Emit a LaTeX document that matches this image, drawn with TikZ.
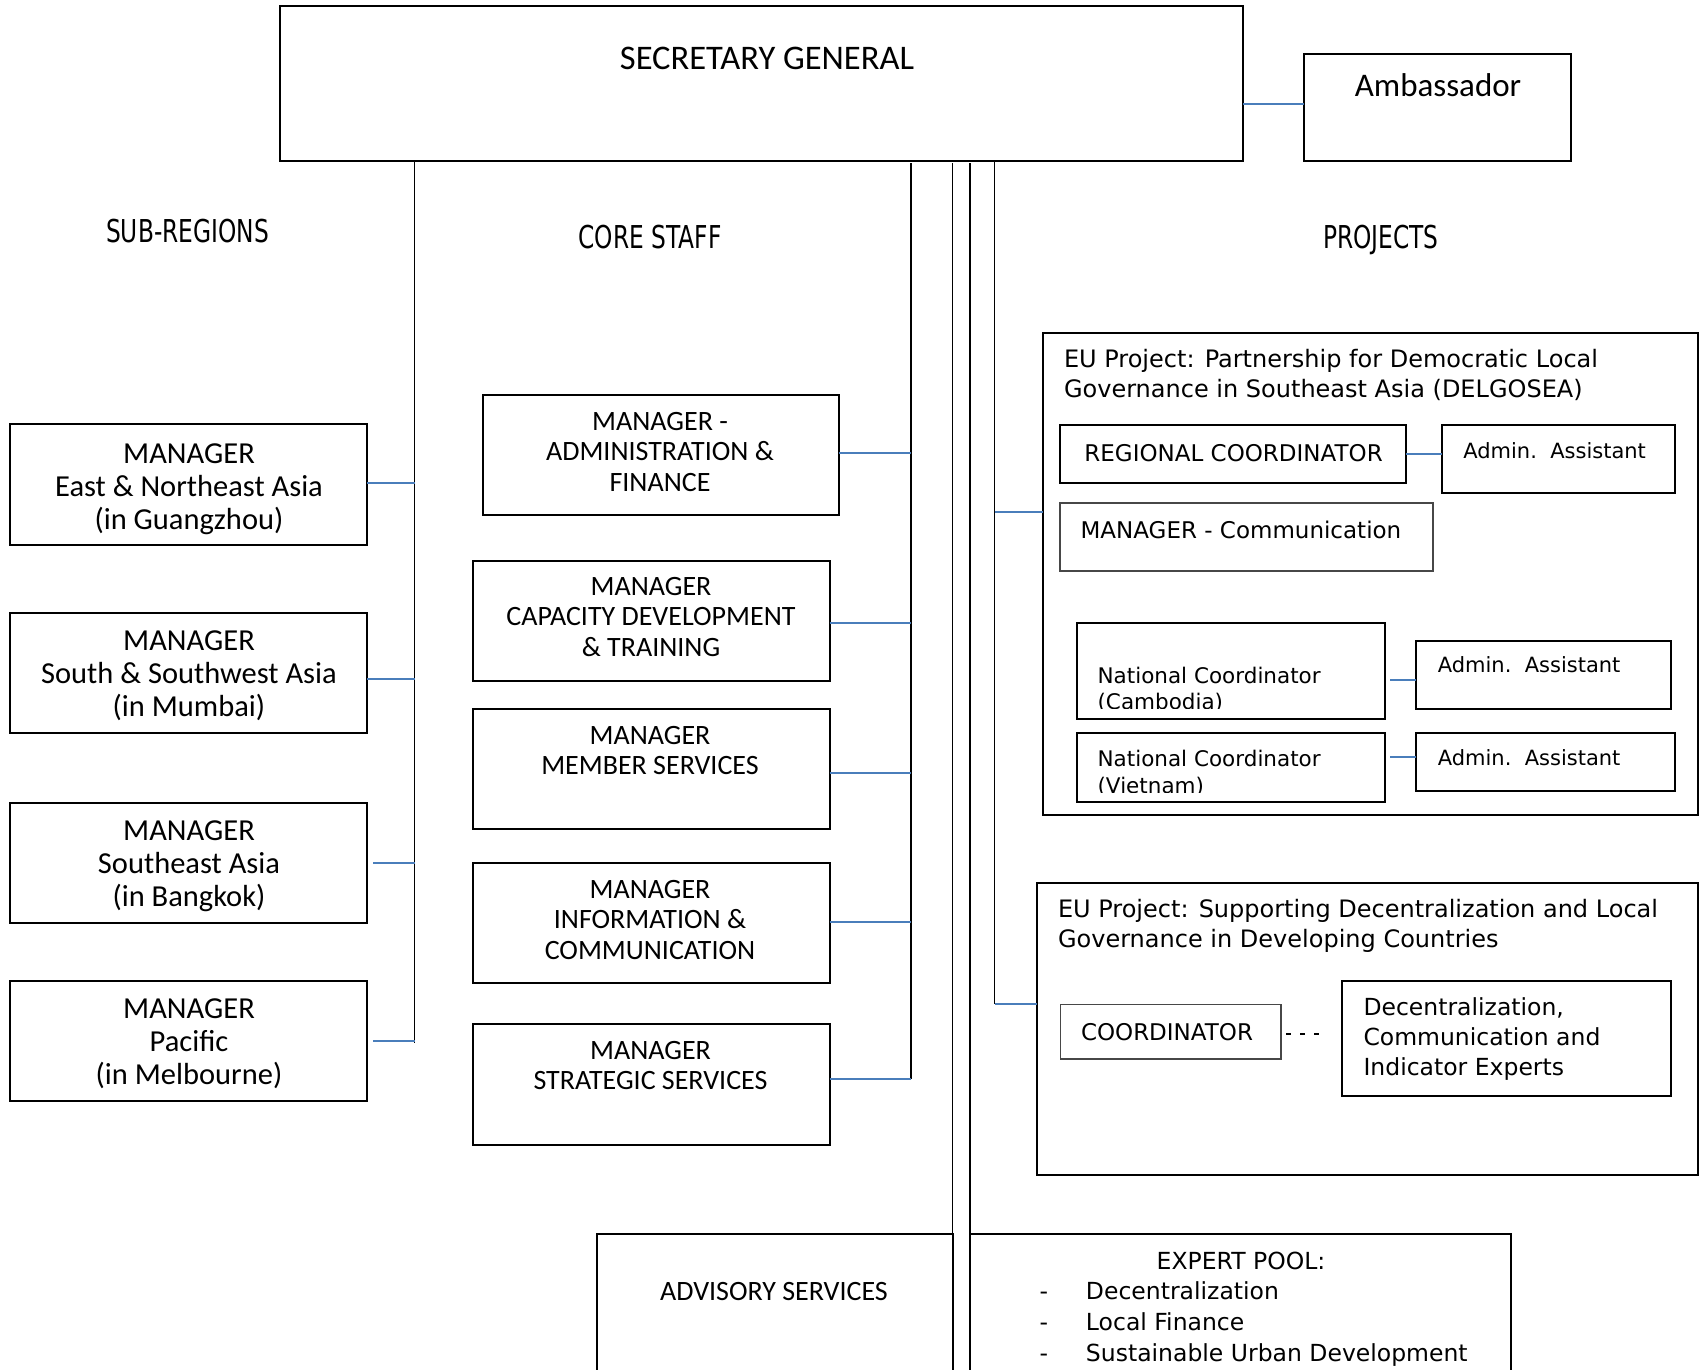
\documentclass[tikz,border=0pt]{standalone}
\usepackage{fontspec}
\setmainfont{Carlito}
\newfontfamily\tahf{DejaVu Sans}
\newfontfamily\condf{DejaVu Sans}[FakeStretch=0.74]
\usetikzlibrary{calc}
\definecolor{connblue}{RGB}{74,126,187}
\tikzset{
  box/.style={draw=black, line width=2pt, inner sep=0pt, outer sep=0pt},
  lbox/.style={draw=black!72, line width=1.6pt, inner sep=0pt, outer sep=0pt},
  spine/.style={draw=black, line width=1.5pt},
  conn/.style={draw=connblue, line width=2pt},
  dashconn/.style={draw=black, line width=1.6pt, dash pattern=on 0pt off 5pt on 5pt off 9pt on 5pt off 9pt on 5pt off 200pt},
  tc/.style={inner sep=0pt, outer sep=0pt, anchor=base, align=center},
  tl/.style={inner sep=0pt, outer sep=0pt, anchor=base west, align=left},
  fsg/.style={font=\fontsize{34.5}{40}\selectfont},
  famb/.style={font=\fontsize{33}{38}\selectfont},
  fhead/.style={font=\condf\fontsize{31.5}{36}\selectfont},
  fsr/.style={font=\fontsize{30.5}{33}\selectfont},
  fcs/.style={font=\fontsize{28}{30.8}\selectfont},
  feu/.style={font=\tahf\fontsize{24}{30.2}\selectfont},
  frc/.style={font=\tahf\fontsize{23}{28}\selectfont},
  faa/.style={font=\tahf\fontsize{21}{26}\selectfont},
  fnc/.style={font=\tahf\fontsize{21.5}{26.7}\selectfont},
  fex/.style={font=\tahf\fontsize{23.5}{30}\selectfont},
  fpool/.style={font=\tahf\fontsize{23.5}{30.8}\selectfont},
}
\begin{document}
\begin{tikzpicture}[x=1pt,y=-1pt]
\useasboundingbox (0,0) rectangle (1702,1370);
\fill[white] (0,0) rectangle (1702,1370);

% ---------- top ----------
\node[box, minimum width=963pt, minimum height=154.5pt] (sg) at (761.5,83.75) {};
\node[tc, fsg] (sgt) at (767,70) {SECRETARY GENERAL};
\node[box, minimum width=267pt, minimum height=106.7pt] (amb) at (1437.5,107.65) {};
\node[tc, famb] (ambt) at (1438,97) {Ambassador};
\coordinate (ka) at ([yshift=3.65pt]amb.west);
\draw[conn] (ka) -- (ka -| sg.east);

% ---------- headings ----------
\node[tc, fhead] (hsr) at (187.5,242) {SUB-REGIONS};
\node[tc, fhead] (hcs) at (650,248) {CORE STAFF};
\node[tc, fhead] (hpj) at (1381,248) {PROJECTS};

% ---------- spine x positions ----------
\coordinate (xsr) at (414.5,0);
\coordinate (xcs) at (911,0);
\coordinate (xpj) at (994.6,0);

% ---------- sub-regions (text anchored at last baseline) ----------
\node[box, minimum width=357pt, minimum height=120.7pt] (sr1) at (188.85,484.65) {};
\node[box, minimum width=357pt, minimum height=120pt] (sr2) at (188.85,672.7) {};
\node[box, minimum width=357pt, minimum height=120pt] (sr3) at (188.85,862.7) {};
\node[box, minimum width=357pt, minimum height=120pt] (sr4) at (188.85,1040.7) {};
\node[tc, fsr] (sr1t) at (189,529) {MANAGER\\East \& Northeast Asia\\(in Guangzhou)};
\node[tc, fsr] (sr2t) at (189,716) {MANAGER\\South \& Southwest Asia\\(in Mumbai)};
\node[tc, fsr] (sr3t) at (189,906) {MANAGER\\Southeast Asia\\(in Bangkok)};
\node[tc, fsr] (sr4t) at (189,1084) {MANAGER\\Pacific\\(in Melbourne)};

\coordinate (k1) at ([yshift=2pt]sr1.east);
\coordinate (k2) at ([yshift=-6.3pt]sr2.east);
\coordinate (k3) at ([xshift=6pt]sr3.east);
\coordinate (k4) at ([xshift=6pt]sr4.east);
\draw[spine] (sg.south -| xsr) -- ([yshift=-2pt]k4 -| xsr);
\draw[conn] (k1) -- (k1 -| xsr);
\draw[conn] (k2) -- (k2 -| xsr);
\draw[conn] (k3) -- (k3 -| xsr);
\draw[conn] (k4) -- (k4 -| xsr);

% ---------- core staff ----------
\node[box, minimum width=355.7pt, minimum height=120pt] (cs1) at (660.85,455) {};
\node[box, minimum width=356.5pt, minimum height=120pt] (cs2) at (651.25,621) {};
\node[box, minimum width=356.5pt, minimum height=119.7pt] (cs3) at (651.25,769.15) {};
\node[box, minimum width=356.5pt, minimum height=120pt] (cs4) at (651.25,923.3) {};
\node[box, minimum width=356.5pt, minimum height=121pt] (cs5) at (651.25,1084.5) {};
\node[tc, fcs] (cs1t) at (660,491.6) {MANAGER -\\ADMINISTRATION \&\\FINANCE};
\node[tc, fcs] (cs2t) at (651,656.6) {MANAGER\\CAPACITY DEVELOPMENT\\\& TRAINING};
\node[tc, fcs] (cs3t) at (650,774.8) {MANAGER\\MEMBER SERVICES};
\node[tc, fcs] (cs4t) at (650,959.6) {MANAGER\\INFORMATION \&\\COMMUNICATION};
\node[tc, fcs] (cs5t) at (650.5,1089.8) {MANAGER\\STRATEGIC SERVICES};

\coordinate (c1) at ([yshift=2.3pt]cs1.east);
\coordinate (c2) at ([yshift=-1.7pt]cs2.east);
\coordinate (c3) at ([yshift=-3.5pt]cs3.east);
\coordinate (c4) at ([yshift=1pt]cs4.east);
\coordinate (c5) at ([yshift=5.8pt]cs5.east);
\draw[spine] ([yshift=-2pt]sg.south -| xcs) -- (c5 -| xcs);
\draw[conn] (c1) -- (c1 -| xcs);
\draw[conn] (c2) -- (c2 -| xcs);
\draw[conn] (c3) -- (c3 -| xcs);
\draw[conn] (c4) -- (c4 -| xcs);
\draw[conn] (c5) -- (c5 -| xcs);

% ---------- bottom boxes & double line ----------
\node[box, minimum width=355.5pt, minimum height=186pt] (adv) at (774.75,1327) {};
\node[box, minimum width=541pt, minimum height=186pt] (pool) at (1240.5,1327) {};
\draw[spine] ([yshift=-2pt]sg.south -| adv.east) -- (adv.north east);
\draw[spine] ([yshift=-2pt]sg.south -| pool.west) -- (pool.north west);
\node[tc, font=\fontsize{28}{32}\selectfont] (advt) at (774,1300) {ADVISORY SERVICES};
\node[tc, fpool] (poolt) at (1241,1269) {EXPERT POOL:};
\node[tl, fpool] (pooll) at (1039.5,1361.1) {\makebox[46.5pt][l]{-}Decentralization\\\makebox[46.5pt][l]{-}Local Finance\\\makebox[46.5pt][l]{-}Sustainable Urban Development};

% ---------- projects ----------
\node[box, minimum width=655.5pt, minimum height=482.3pt] (p1) at (1370.25,573.85) {};
\node[tl, feu] (p1t) at (1064,397.2) {EU Project: Partnership for Democratic Local\\Governance in Southeast Asia (DELGOSEA)};
\node[box, minimum width=346pt, minimum height=57.7pt] (rc) at (1233.4,453.85) {};
\node[tc, frc] (rct) at (1233.6,461.7) {REGIONAL COORDINATOR};
\node[box, minimum width=233pt, minimum height=67.7pt] (aa1) at (1558.5,458.85) {};
\node[tl, faa] (aa1t) at (1463.3,458) {Admin.~~Assistant};
\draw[conn] (rc.east) -- (rc.east -| aa1.west);
\node[lbox, minimum width=373pt, minimum height=68pt] (mc) at (1246.5,536.7) {};
\node[tl, frc] (mct) at (1080.6,538.3) {MANAGER - Communication};

\node[box, minimum width=308pt, minimum height=96.3pt] (nc1) at (1231,670.85) {};
\begin{scope}
  \clip (nc1.north west) rectangle ([yshift=11pt]nc1.south east);
  \node[tl, fnc] (nc1t) at (1097.6,709.7) {National Coordinator\\(Cambodia)};
\end{scope}
\node[box, minimum width=255pt, minimum height=68pt] (aa2) at (1543.5,675) {};
\node[tl, faa] (aa2t) at (1437.8,672.7) {Admin.~~Assistant};
\coordinate (n1) at ([yshift=-5pt]aa2.west);
\draw[conn] ([xshift=5pt]n1 -| nc1.east) -- (n1);

\node[box, minimum width=308pt, minimum height=69.6pt] (nc2) at (1231,767.5) {};
\begin{scope}
  \clip (nc2.north west) rectangle ([yshift=10pt]nc2.south east);
  \node[tl, fnc] (nc2t) at (1097.6,793) {National Coordinator\\(Vietnam)};
\end{scope}
\node[box, minimum width=259pt, minimum height=58pt] (aa3) at (1545.5,761.7) {};
\node[tl, faa] (aa3t) at (1437.8,765) {Admin.~~Assistant};
\coordinate (n2) at ([yshift=5pt]aa3.west);
\draw[conn] ([xshift=5pt]n2 -| nc2.east) -- (n2);

\node[box, minimum width=661.3pt, minimum height=292.3pt] (p2) at (1367.35,1028.85) {};
\node[tl, feu] (p2t) at (1058,947.2) {EU Project: Supporting Decentralization and Local\\Governance in Developing Countries};
\node[lbox, minimum width=220.7pt, minimum height=54.7pt] (co) at (1170.75,1031.65) {};
\node[tc, frc] (cot) at (1167,1040) {COORDINATOR};
\node[box, minimum width=329pt, minimum height=115pt] (ex) at (1506.9,1038.2) {};
\node[tl, fex] (ext) at (1363.5,1075) {Decentralization,\\Communication and\\Indicator Experts};
\coordinate (d1) at ([yshift=-2.35pt]co.east);
\draw[dashconn] (d1) -- (d1 -| ex.west);

\coordinate (q1) at ([yshift=61.5pt]p1.west);
\coordinate (q2) at ([yshift=24.85pt]p2.west);
\draw[spine] (sg.south -| xpj) -- (q2 -| xpj);
\draw[conn] (q1 -| xpj) -- (q1);
\draw[conn] (q2 -| xpj) -- (q2);
\end{tikzpicture}
\end{document}
